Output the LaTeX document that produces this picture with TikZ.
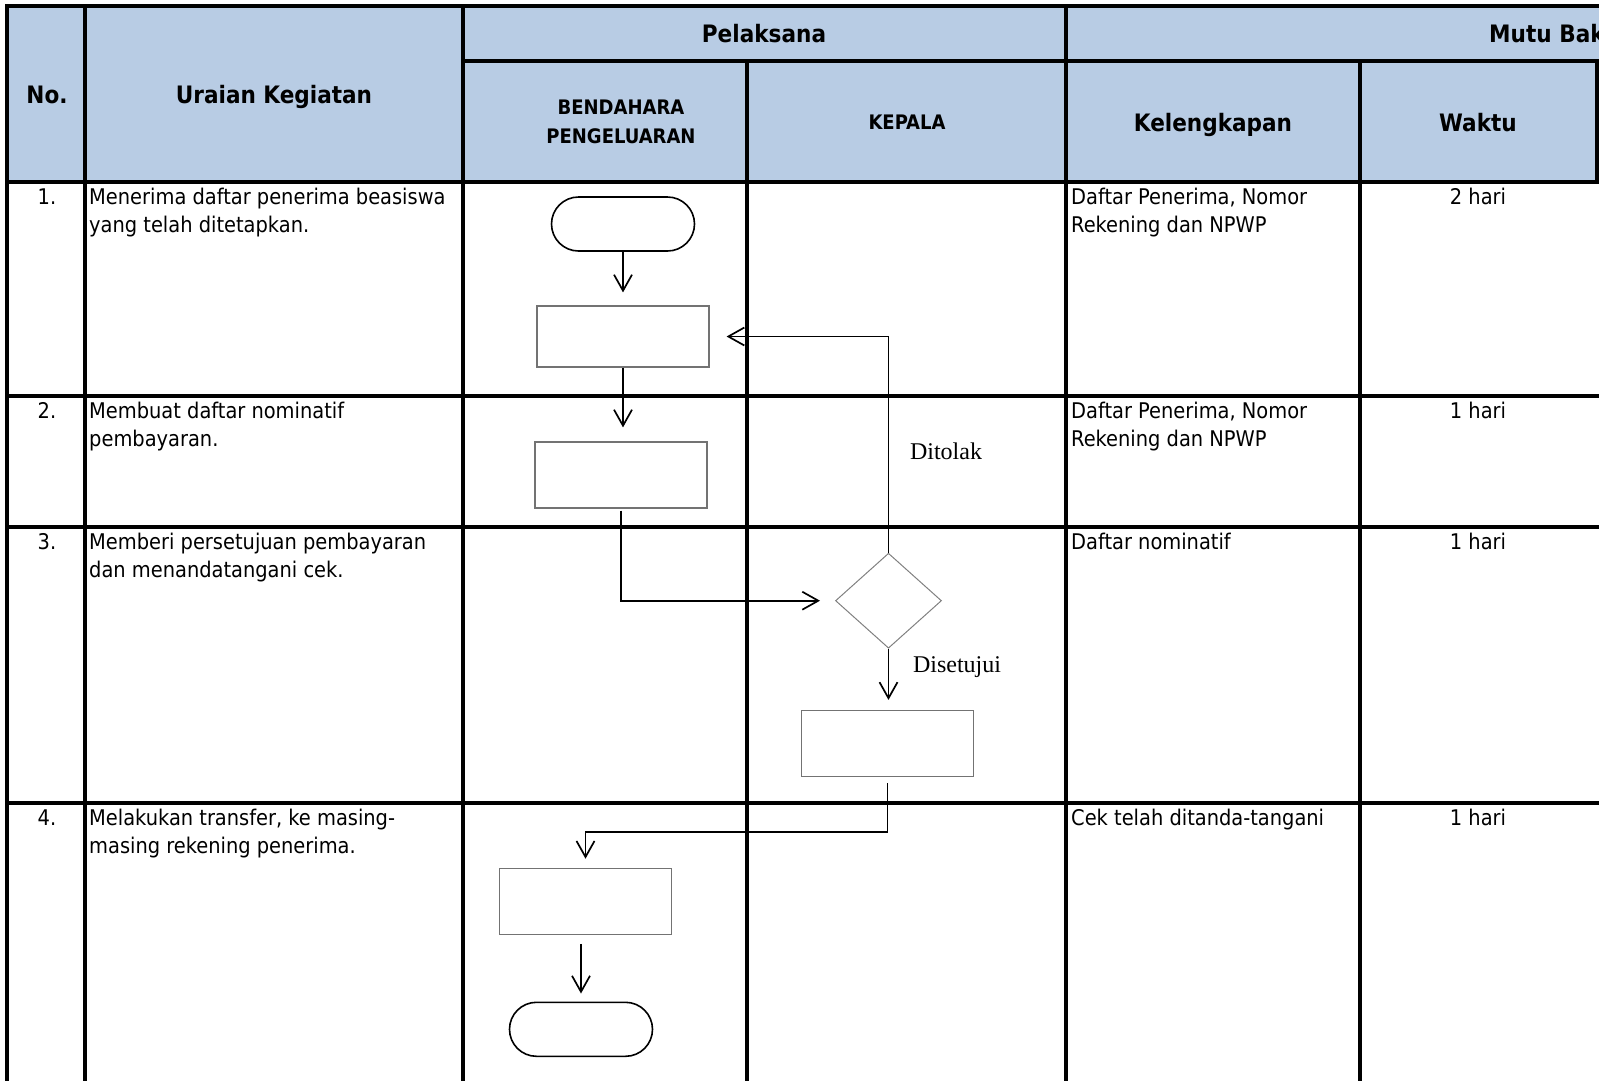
\documentclass[tikz,border=0pt]{standalone}
\usepackage{fontspec}
\setmainfont{DejaVu Sans Condensed}
\newfontfamily\timesfont{Liberation Serif}
\usetikzlibrary{shapes.geometric,arrows.meta}
\definecolor{headblue}{HTML}{B8CCE4}

\begin{document}
\begin{tikzpicture}[x=1pt, y=-1pt, >={Straight Barb[length=16pt,width=18pt]}]
    \tikzstyle{grid_style} = [draw=black, line width=3.2pt, line cap=rect]
    \tikzstyle{head_style} = [font=\fontsize{24}{28}\selectfont\bfseries, inner sep=0pt]
    \tikzstyle{sub_style} = [font=\fontsize{20}{28.5}\selectfont\bfseries, inner sep=0pt, align=center]
    \tikzstyle{body_style} = [font=\fontsize{21.6}{28.5}\selectfont, inner sep=0pt]
    \tikzstyle{desc_style} = [body_style, anchor=north west, align=left]
    \tikzstyle{term_style} = [draw=black, line width=1.6pt, rounded corners=27pt, minimum width=143pt, minimum height=54pt, inner sep=0pt]
    \tikzstyle{box_style} = [draw=black!55, line width=1.2pt, minimum width=172pt, minimum height=66pt, inner sep=0pt]
    \tikzstyle{dec_style} = [diamond, draw=black!50, line width=1pt, minimum width=106pt, minimum height=95pt, inner sep=0pt]
    \tikzstyle{edge_style} = [draw=black, line width=1.7pt, ->]
    \tikzstyle{label_style} = [font=\timesfont\fontsize{24}{28}\selectfont, inner sep=0pt]

    \useasboundingbox (0,0) rectangle (1599,1080);
    \clip (0,0) rectangle (1599,1080);

    \fill[headblue] (7,6) rectangle (1610,182);
    \draw[grid_style] (7,6) -- (1610,6);
    \draw[grid_style] (463,61) -- (1610,61);
    \foreach \y in {182,396,527,803} \draw[grid_style] (7,\y) -- (1610,\y);
    \foreach \x in {7,85,463,1066} \draw[grid_style] (\x,6) -- (\x,1090);
    \foreach \x in {747,1360} \draw[grid_style] (\x,61) -- (\x,1090);
    \draw[grid_style] (1597,61) -- (1597,182);

    \node[head_style, anchor=base] (h_no) at (47,103) {No.};
    \node[head_style, anchor=base] (h_uraian) at (274,103) {Uraian Kegiatan};
    \node[head_style, anchor=base] (h_pelaksana) at (764,42) {Pelaksana};
    \node[head_style, anchor=base west] (h_mutu) at (1489,42) {Mutu Baku};
    \node[sub_style] (h_bendahara) at (621,122) {BENDAHARA\\PENGELUARAN};
    \node[sub_style] (h_kepala) at (907,122) {KEPALA};
    \node[head_style, anchor=base] (h_lengkap) at (1213,131) {Kelengkapan};
    \node[head_style, anchor=base] (h_waktu) at (1478,131) {Waktu};

    \node[body_style, anchor=base] (no1) at (47,204) {1.};
    \node[body_style, anchor=base] (no2) at (47,418) {2.};
    \node[body_style, anchor=base] (no3) at (47,549) {3.};
    \node[body_style, anchor=base] (no4) at (47,825) {4.};

    \node[desc_style] (uraian1) at (89,184) {\strut Menerima daftar penerima beasiswa\\yang telah ditetapkan.};
    \node[desc_style] (uraian2) at (89,398) {\strut Membuat daftar nominatif\\pembayaran.};
    \node[desc_style] (uraian3) at (89,529) {\strut Memberi persetujuan pembayaran\\dan menandatangani cek.};
    \node[desc_style] (uraian4) at (89,805) {\strut Melakukan transfer, ke masing-\\masing rekening penerima.};

    \node[desc_style] (lengkap1) at (1071,184) {\strut Daftar Penerima, Nomor\\Rekening dan NPWP};
    \node[desc_style] (lengkap2) at (1071,398) {\strut Daftar Penerima, Nomor\\Rekening dan NPWP};
    \node[desc_style] (lengkap3) at (1071,529) {\strut Daftar nominatif};
    \node[desc_style] (lengkap4) at (1071,805) {\strut Cek telah ditanda-tangani};

    \node[body_style, anchor=base] (waktu1) at (1478,204) {2 hari};
    \node[body_style, anchor=base] (waktu2) at (1478,418) {1 hari};
    \node[body_style, anchor=base] (waktu3) at (1478,549) {1 hari};
    \node[body_style, anchor=base] (waktu4) at (1478,825) {1 hari};

    \node[term_style] (mulai) at (623,224) {};
    \node[box_style, minimum height=61pt] (proses1) at (623,336.5) {};
    \node[box_style] (proses2) at (621,475) {};
    \node[dec_style] (cek) at (888.5,600.7) {};
    \node[box_style] (proses3) at (887.5,743.5) {};
    \node[box_style] (proses4) at (585.5,901.3) {};
    \node[term_style] (selesai) at (581,1029.3) {};

    \node[label_style] (ditolak) at (946,451) {Ditolak};
    \node[label_style] (disetujui) at (957,667) {Disetujui};

    \draw[edge_style, shorten >=13pt] (mulai) -- (proses1);
    \draw[edge_style, shorten >=14pt] (proses1.south) -- (proses1.south |- proses2.north);
    \draw[edge_style, shorten <=2pt, shorten >=15pt] (proses2.south) |- (cek.west);
    \draw[edge_style, shorten >=17pt] (cek.north) |- (proses1.east);
    \draw[edge_style, shorten >=10pt] (cek.south) -- (cek.south |- proses3.north);
    \draw[edge_style, shorten <=6pt, shorten >=9pt] (proses3.south) -- ++(0,55) -| (proses4.north);
    \draw[edge_style, shorten <=9pt, shorten >=8pt] (proses4.south -| selesai.north) -- (selesai.north);
\end{tikzpicture}
\end{document}
